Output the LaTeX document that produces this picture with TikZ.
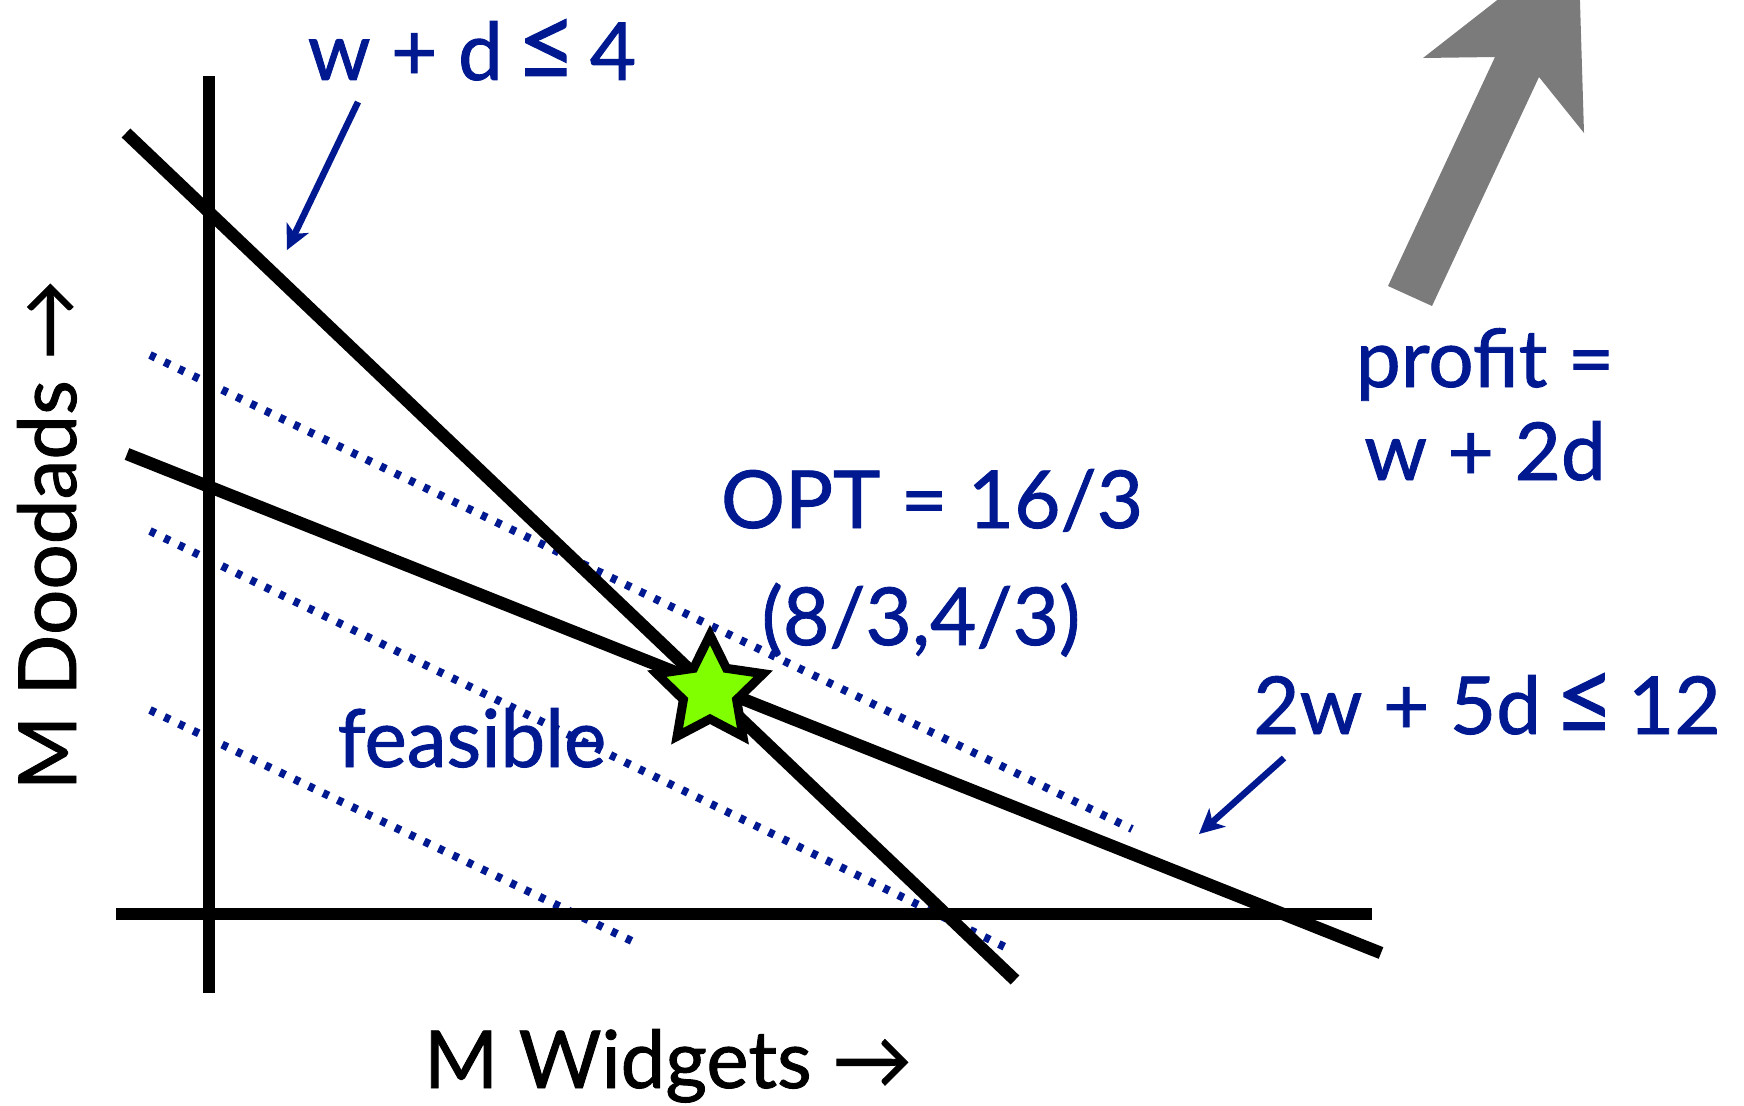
\documentclass[tikz,border=0pt]{standalone}
\usepackage{fontspec}
\setmainfont{Lato}[FakeBold=1.1]
\usetikzlibrary{arrows.meta,shapes.geometric}
\definecolor{txtblue}{RGB}{0,25,145}
\definecolor{arrgray}{RGB}{123,123,123}
\definecolor{stargreen}{RGB}{128,255,0}
\newcommand{\bigleq}{\,\scalebox{1.3}{≤}\,}
\begin{document}
\begin{tikzpicture}[x=1pt,y=-1pt,
  lbl/.style={text=txtblue, font=\fontsize{80}{94}\selectfont, anchor=base, inner sep=0pt, text height=60pt, text depth=18pt},
  axlbl/.style={text=black, font=\fontsize{80}{94}\selectfont, anchor=base, inner sep=0pt},
  cline/.style={line width=12.5pt, black},
  axisline/.style={line width=12.5pt, black},
  profitline/.style={txtblue, line width=8pt, dash pattern=on 6pt off 10pt},
  callout/.style={txtblue, line width=6.5pt, -{Stealth[length=25pt,width=25pt,inset=7pt,line width=0pt]}},
  optstar/.style={star, star points=5, star point ratio=2.0, minimum size=112pt, inner sep=0pt,
    draw=black, line width=9pt, fill=stargreen},
]
\useasboundingbox (0,0) rectangle (1744,1105);
% big gray profit arrow
\begin{scope}
\clip (0,0) rectangle (1744,1105);
\fill[arrgray] (1388,286) -- (1432,306) -- (1539,77) -- (1584,133) -- (1578,-63) -- (1423,58) -- (1495,57) -- cycle;
\end{scope}
% coordinates
\coordinate (yb) at (209,993);
\coordinate (yt) at (209,76);
\coordinate (xl) at (116,914);
\coordinate (xr) at (1372,914);
\coordinate (a1) at (126,133);
\coordinate (a2) at (1015,980);
\coordinate (b1) at (127,454);
\coordinate (b2) at (1381,953);
\coordinate (p1s) at (150,355);
\coordinate (p1e) at (1132,829);
\coordinate (p2s) at (150,531);
\coordinate (p2e) at (1007,948);
\coordinate (p3s) at (150,710);
\coordinate (p3e) at (636,943);
% dotted profit lines
\draw[profitline] (p1s) -- (p1e);
\draw[profitline] (p2s) -- (p2e);
\draw[profitline] (p3s) -- (p3e);
% axes
\draw[axisline] (yb) -- (yt);
\draw[axisline] (xl) -- (xr);
% constraints
\draw[cline] (a1) -- (a2);
\draw[cline] (b1) -- (b2);
% star
\node[optstar] (opt) at (710,691) {};
% labels
\node[lbl] (c1) at (472,80) {w + d\bigleq 4};
\node[lbl] (c2) at (1487,734) {2w + 5d\bigleq 12};
\node[lbl] (optv) at (932,528) {OPT = 16/3};
\node[lbl] (optp) at (921,645) {(8/3,4/3)};
\node[lbl] (pr1) at (1485,387) {profit =};
\node[lbl] (pr2) at (1485,480) {w + 2d};
\node[lbl] (feas) at (472,767) {feasible};
\node[axlbl] (xlab) at (668,1088) {M Widgets →};
\node[axlbl, rotate=90] (ylab) at (76,535) {M Doodads →};
% callout arrows
\coordinate (c1s) at (358,102);
\coordinate (c1e) at (287,250);
\coordinate (c2s) at (1284,758);
\coordinate (c2e) at (1199,834);
\draw[callout] (c1s) -- (c1e);
\draw[callout] (c2s) -- (c2e);
\end{tikzpicture}
\end{document}
